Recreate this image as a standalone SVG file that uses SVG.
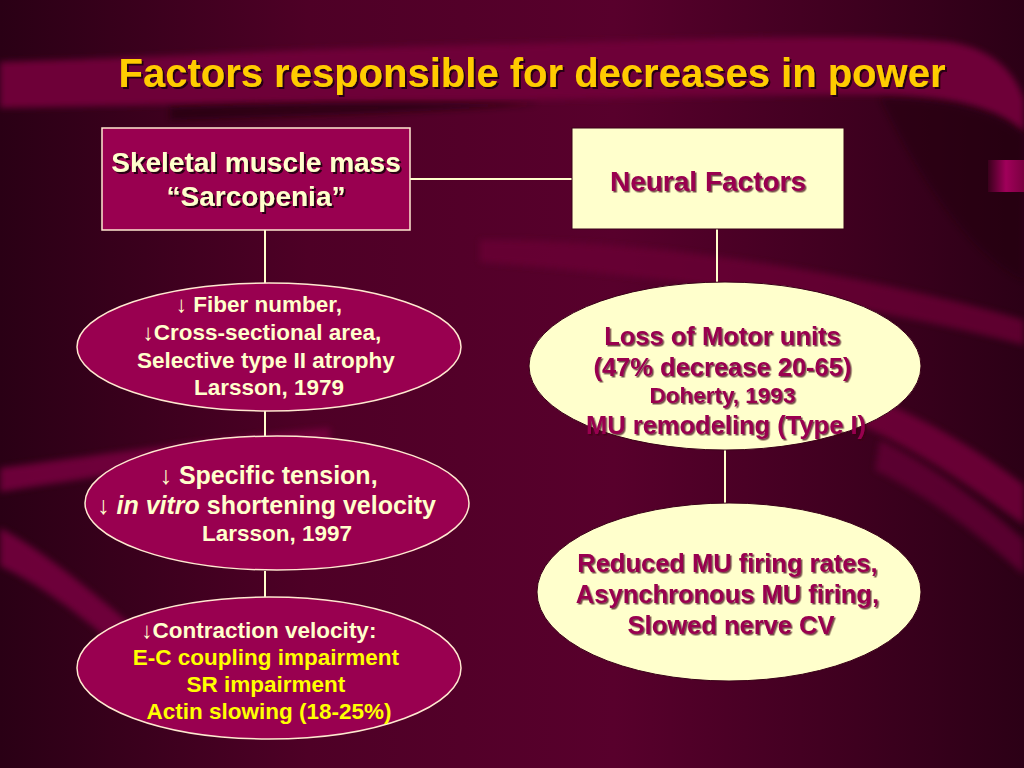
<svg xmlns="http://www.w3.org/2000/svg" width="1024" height="768" viewBox="0 0 1024 768">
<defs>
<linearGradient id="bg" x1="0" y1="0" x2="1" y2="0">
<stop offset="0" stop-color="#2a0015"/>
<stop offset="0.3" stop-color="#4e0026"/>
<stop offset="0.6" stop-color="#58002c"/>
<stop offset="1" stop-color="#2c0016"/>
</linearGradient>
<linearGradient id="tab" x1="0" y1="0" x2="1" y2="0">
<stop offset="0" stop-color="#3a001c"/>
<stop offset="0.5" stop-color="#a0005a"/>
<stop offset="1" stop-color="#7a0040"/>
</linearGradient>
<filter id="sh" x="-10%" y="-30%" width="120%" height="160%">
<feDropShadow dx="2" dy="2" stdDeviation="0.6" flood-color="#1a0008" flood-opacity="0.9"/>
</filter>
<filter id="shl" x="-10%" y="-30%" width="120%" height="160%">
<feDropShadow dx="1.5" dy="1.5" stdDeviation="0.5" flood-color="#3a0018" flood-opacity="0.7"/>
</filter>
<filter id="blur" x="-10%" y="-20%" width="120%" height="140%"><feGaussianBlur stdDeviation="3"/></filter>
</defs>
<style>
.t{font-family:"Liberation Sans",Arial,sans-serif;font-weight:bold;text-anchor:middle}
.cream{fill:#FFFFCC}
.mag{fill:#990050}
.yel{fill:#FFFF00}
.arr{font-weight:normal}
.conn line{stroke:#FFFFCC;stroke-width:2}
.mnode{fill:#990050;stroke:#FFE8D0;stroke-width:1.5}
.cnode{fill:#FFFFCC;stroke:#3a0018;stroke-width:1}
</style>
<rect width="1024" height="768" fill="url(#bg)"/>
<g id="background">
<path d="M0,62 C150,58 300,48 520,44 C700,40 850,32 950,42 C1000,50 1018,80 1024,100 L1024,132 C1000,110 960,96 880,95 C760,94 650,98 520,100 C350,100 200,104 0,108 Z" fill="#6e0038" filter="url(#blur)"/>
<path d="M170,108 C300,102 420,102 540,104 C430,112 300,116 170,120 Z" fill="#22000f" opacity="0.7" filter="url(#blur)"/>
<path d="M880,98 C960,100 1000,115 1024,135 L1024,280 C980,260 930,200 880,98 Z" fill="#22000f" opacity="0.5" filter="url(#blur)"/>
<path d="M480,240 C650,240 850,270 1024,320 L1024,345 C850,300 650,275 480,262 Z" fill="#6a0036" opacity="0.8" filter="url(#blur)"/>
<path d="M0,468 C100,455 200,440 330,428 L330,446 C200,460 100,476 0,492 Z" fill="#780040" opacity="0.85" filter="url(#blur)"/>
<path d="M0,528 C40,548 90,590 135,628 L115,645 C75,610 35,582 0,566 Z" fill="#780040" opacity="0.85" filter="url(#blur)"/>
<path d="M860,392 C930,420 985,455 1024,485 L1024,525 C975,490 920,450 850,420 Z" fill="#6e0038" opacity="0.9" filter="url(#blur)"/>
<path d="M880,440 C940,470 990,510 1024,540 L1024,575 C985,540 935,500 875,470 Z" fill="#640034" opacity="0.8" filter="url(#blur)"/>
<rect x="988" y="160" width="36" height="32" fill="url(#tab)"/>
</g>
<text class="t" x="532" y="87" font-size="40" fill="#FFCC00" filter="url(#sh)">Factors responsible for decreases in power</text>
<g class="conn" id="connectors">
<line x1="410" y1="179" x2="572" y2="179"/>
<line x1="265" y1="230" x2="265" y2="283"/>
<line x1="265" y1="410" x2="265" y2="436"/>
<line x1="265" y1="571" x2="265" y2="597"/>
<line x1="717" y1="229" x2="717" y2="282"/>
<line x1="725" y1="450" x2="725" y2="503"/>
</g>
<g id="skeletal">
<rect class="mnode" x="102" y="128" width="308" height="102"/>
<text class="t cream" font-size="28" filter="url(#sh)"><tspan x="256" y="172">Skeletal muscle mass</tspan><tspan x="256" y="206">“Sarcopenia”</tspan></text>
</g>
<g id="neural">
<rect class="cnode" x="572" y="128" width="272" height="101"/>
<text class="t mag" x="708" y="191" font-size="28" filter="url(#shl)">Neural Factors</text>
</g>
<g id="fiber">
<ellipse class="mnode" cx="269" cy="347" rx="192" ry="64"/>
<text class="t cream" font-size="22.5">
<tspan x="262" y="312"><tspan class="arr">↓</tspan> Fiber number,</tspan>
<tspan x="265" y="340"><tspan class="arr">↓</tspan>Cross-sectional area,</tspan>
<tspan x="269" y="368">Selective type II atrophy</tspan>
<tspan x="269" y="395">Larsson, 1979</tspan>
</text>
</g>
<g id="tension">
<ellipse class="mnode" cx="277" cy="503" rx="192" ry="67"/>
<text class="t cream" font-size="25">
<tspan x="272" y="484"><tspan class="arr">↓</tspan> Specific tension,</tspan>
<tspan x="270" y="514"><tspan class="arr">↓</tspan> <tspan font-style="italic">in vitro</tspan> shortening velocity</tspan>
<tspan x="277" y="541" font-size="22.5">Larsson, 1997</tspan>
</text>
</g>
<g id="contraction">
<ellipse class="mnode" cx="269" cy="668" rx="192" ry="71"/>
<text class="t" font-size="22.5">
<tspan class="cream" x="262" y="638"><tspan class="arr">↓</tspan>Contraction velocity:</tspan>
<tspan class="yel" x="269" y="665">E-C coupling impairment</tspan>
<tspan class="yel" x="269" y="692">SR impairment</tspan>
<tspan class="yel" x="269" y="719">Actin slowing (18-25%)</tspan>
</text>
</g>
<g id="motor">
<ellipse class="cnode" cx="725" cy="366" rx="196" ry="84"/>
<text class="t mag" font-size="25.5" filter="url(#shl)">
<tspan x="726" y="345">Loss of Motor units</tspan>
<tspan x="726" y="376">(47% decrease 20-65)</tspan>
<tspan x="726" y="403" font-size="22.5">Doherty, 1993</tspan>
<tspan x="726" y="434">MU remodeling (Type I)</tspan>
</text>
</g>
<g id="firing">
<ellipse class="cnode" cx="729" cy="592" rx="192" ry="89"/>
<text class="t mag" font-size="25.5" filter="url(#shl)">
<tspan x="731" y="572">Reduced MU firing rates,</tspan>
<tspan x="731" y="603">Asynchronous MU firing,</tspan>
<tspan x="731" y="634">Slowed nerve CV</tspan>
</text>
</g>
</svg>
